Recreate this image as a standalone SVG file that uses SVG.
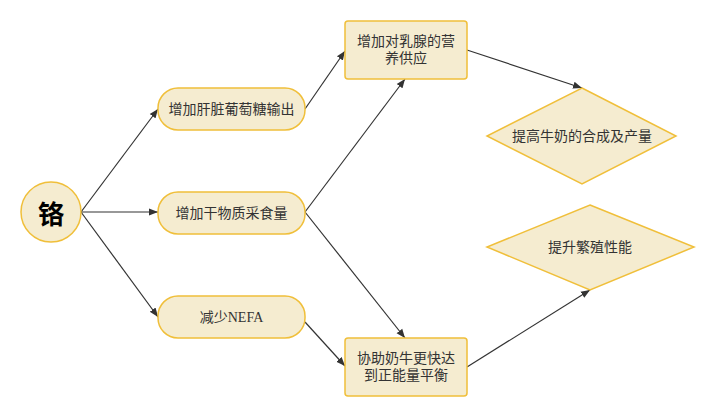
<svg xmlns="http://www.w3.org/2000/svg" width="715" height="417" viewBox="0 0 715 417">
<style>
.n{fill:#f5ecd0;stroke:#f0bf3a;stroke-width:1.5}
.t{font-family:"Liberation Serif","Noto Sans CJK SC",serif;font-size:14px;fill:#333;text-anchor:middle;dominant-baseline:central}
.e{stroke:#333;stroke-width:1.2;fill:none;marker-end:url(#a)}
</style>
<defs><marker id="a" viewBox="0 0 10 10" refX="10" refY="5" markerWidth="9" markerHeight="9" orient="auto" markerUnits="userSpaceOnUse"><path d="M0,1 L10,5 L0,9 Z" fill="#333"/></marker></defs>
<rect width="715" height="417" fill="#fff"/>
<g id="edges">
<path class="e" d="M81,212 L158,109"/>
<path class="e" d="M81,212 L158,212"/>
<path class="e" d="M81,212 L158,317"/>
<path class="e" d="M305,109 L345,51"/>
<path class="e" d="M305,212 L405,79"/>
<path class="e" d="M305,212 L405,338"/>
<path class="e" d="M305,322 L345,366"/>
<path class="e" d="M467,50 L582,88"/>
<path class="e" d="M467,367 L590,290"/>
</g>
<g id="cr"><circle class="n" cx="51" cy="212" r="30"/><text x="51" y="212" style="font-family:'Noto Sans CJK SC',sans-serif;font-size:26px;font-weight:bold;fill:#000;text-anchor:middle;dominant-baseline:central">铬</text></g>
<g id="b1"><rect class="n" x="158" y="88" width="147" height="42" rx="20"/><text class="t" x="231.5" y="109">增加肝脏葡萄糖输出</text></g>
<g id="b2"><rect class="n" x="158" y="192" width="147" height="42" rx="20"/><text class="t" x="231.5" y="213">增加干物质采食量</text></g>
<g id="b3"><rect class="n" x="158" y="296" width="147" height="42" rx="20"/><text class="t" x="231.5" y="317">减少NEFA</text></g>
<g id="r1"><rect class="n" x="345" y="21" width="122" height="58" rx="3"/><text class="t" x="406" y="41">增加对乳腺的营</text><text class="t" x="406" y="58">养供应</text></g>
<g id="r2"><rect class="n" x="345" y="338" width="122" height="58" rx="3"/><text class="t" x="406" y="358">协助奶牛更快达</text><text class="t" x="406" y="375">到正能量平衡</text></g>
<g id="d1"><polygon class="n" points="582,88 676,136 582,184 487,136"/><text class="t" x="582" y="136">提高牛奶的合成及产量</text></g>
<g id="d2"><polygon class="n" points="590,205 694,247 590,290 487,247"/><text class="t" x="590" y="247">提升繁殖性能</text></g>
</svg>
